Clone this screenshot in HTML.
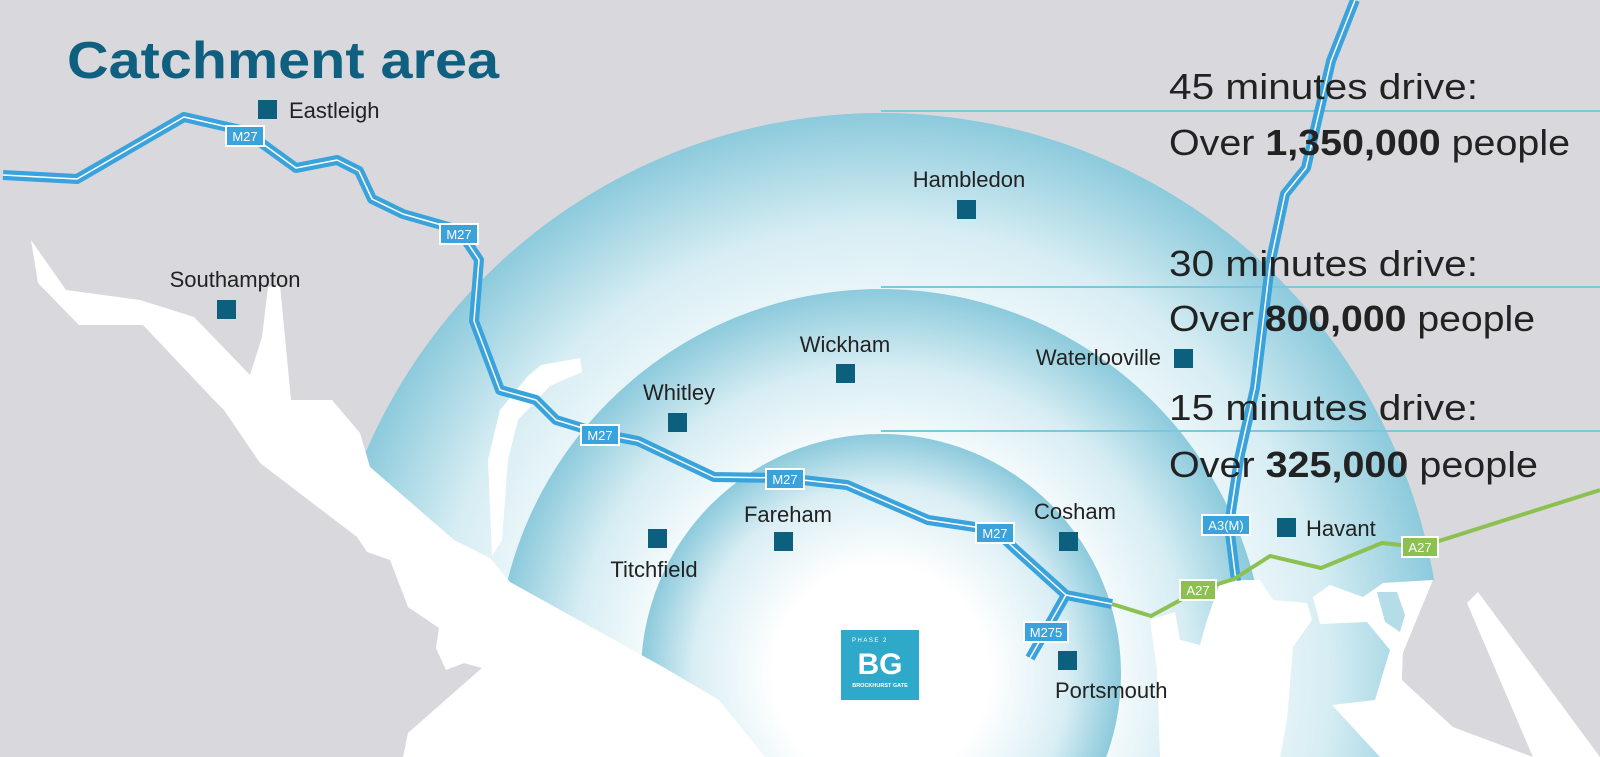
<!DOCTYPE html>
<html><head><meta charset="utf-8"><style>
html,body{margin:0;padding:0;background:#d9d9dd;width:1600px;height:757px;overflow:hidden;}
svg{display:block;}
</style></head><body>
<svg width="1600" height="757" viewBox="0 0 1600 757" xmlns="http://www.w3.org/2000/svg" font-family="Liberation Sans, sans-serif">
<defs>
<radialGradient id="g" cx="0.5" cy="0.5" r="0.5">
<stop offset="0" stop-color="#ffffff"/>
<stop offset="0.55" stop-color="#ffffff"/>
<stop offset="0.8" stop-color="#d6edf3"/>
<stop offset="1" stop-color="#8ccadc"/>
</radialGradient>
<radialGradient id="g2" cx="0.5" cy="0.5" r="0.5">
<stop offset="0" stop-color="#ffffff"/>
<stop offset="0.45" stop-color="#ffffff"/>
<stop offset="0.78" stop-color="#d9eef4"/>
<stop offset="1" stop-color="#8ccadc"/>
</radialGradient>
</defs>
<rect width="1600" height="757" fill="#d9d9dd"/>
<circle cx="881" cy="674" r="561" fill="url(#g)"/>
<circle cx="881" cy="674" r="385" fill="url(#g)"/>
<circle cx="881" cy="674" r="240" fill="url(#g2)"/>
<polygon fill="#d9d9dd" points="0,300 214,400 224,410 260,463 357,537 367,552 390,560 408,607 439,628 436,648 446,670 464,663 482,668 408,733 403,757 0,757"/>
<polygon fill="#fff" points="31,240 66,290 140,300 194,317 250,375 262,337 268,287 280,285 291,400 332,400 360,433 370,467 454,540 490,558 510,582 663,667 719,700 765,757 403,757 408,733 482,668 464,663 446,670 436,648 439,628 408,607 390,560 367,552 357,537 260,463 224,410 214,400 143,325 79,325 38,283"/>
<polygon fill="#fff" points="541,365 580,358 582,372 550,386 518,420 508,460 502,540 492,556 488,460 500,410 528,376"/>
<polygon fill="#fff" points="1150,620 1175,612 1180,640 1200,645 1207,620 1220,583 1240,580 1260,580 1273,600 1307,603 1312,620 1293,647 1287,720 1280,757 1160,757 1157,670"/>
<polygon fill="#fff" points="1313,597 1330,585 1363,597 1383,583 1433,580 1403,653 1402,680 1453,727 1533,757 1380,757 1332,705 1375,700 1390,650 1367,622 1320,624"/>
<polygon fill="#b5dde8" points="1377,592 1397,592 1405,615 1400,632 1385,622"/>
<polygon fill="#d9d9dd" points="1433,580 1600,580 1600,757 1533,757 1453,727 1402,680 1403,653"/>
<polygon fill="#fff" points="1467,603 1478,592 1600,757 1533,757"/>
<g stroke="#7cc6de" stroke-width="2">
<line x1="881" y1="111" x2="1600" y2="111"/>
<line x1="881" y1="287" x2="1600" y2="287"/>
<line x1="881" y1="431" x2="1600" y2="431"/>
</g>
<g fill="none" stroke-linejoin="round">
<polyline stroke="#3aa3dc" stroke-width="10" points="3,175 77,179 184,117 245,131 296,168 337,160 359,171 372,199 403,214 459,230 479,260 474,321 500,390 536,400 556,420 602,434 638,441 714,477 785,478 847,485 928,520 995,530 1015,549 1066,595 1112,604"/>
<polyline stroke="#3aa3dc" stroke-width="10" points="1066,595 1045,632 1030,658"/>
<polyline stroke="#3aa3dc" stroke-width="10" points="1355,0 1331,61 1306,168 1285,194 1270,265 1255,388 1239,459 1229,525 1236,581"/>
<g stroke="#fff" stroke-width="1.5">
<polyline points="3,175 77,179 184,117 245,131 296,168 337,160 359,171 372,199 403,214 459,230 479,260 474,321 500,390 536,400 556,420 602,434 638,441 714,477 785,478 847,485 928,520 995,530 1015,549 1066,595 1112,604"/>
<polyline points="1066,595 1045,632 1030,658"/>
<polyline points="1355,0 1331,61 1306,168 1285,194 1270,265 1255,388 1239,459 1229,525 1236,581"/>
</g>
<polyline stroke="#8cc152" stroke-width="4" points="1112,604 1151,616 1199,590 1234,579 1270,556 1321,568 1382,543 1420,547 1600,490"/>
</g>
<g stroke-width="2" stroke="#fff">
<rect x="226" y="126" width="38" height="20" fill="#3aa3dc"/>
<rect x="440" y="224" width="38" height="20" fill="#3aa3dc"/>
<rect x="581" y="425" width="38" height="20" fill="#3aa3dc"/>
<rect x="766" y="469" width="38" height="20" fill="#3aa3dc"/>
<rect x="976" y="523" width="38" height="20" fill="#3aa3dc"/>
<rect x="1024" y="622" width="44" height="20" fill="#3aa3dc"/>
<rect x="1202" y="515" width="48" height="20" fill="#3aa3dc"/>
<rect x="1180" y="580" width="36" height="20" fill="#8cc152"/>
<rect x="1402" y="537" width="36" height="20" fill="#8cc152"/>
</g>
<g font-size="13" fill="#fff" text-anchor="middle">
<text x="245" y="141">M27</text><text x="459" y="239">M27</text><text x="600" y="440">M27</text>
<text x="785" y="484">M27</text><text x="995" y="538">M27</text><text x="1046" y="637">M275</text>
<text x="1226" y="530">A3(M)</text><text x="1198" y="595">A27</text><text x="1420" y="552">A27</text>
</g>
<rect x="841" y="630" width="78" height="70" fill="#2fa9c9"/>
<text x="852" y="642" font-size="6" fill="#fff" letter-spacing="1.5">PHASE 2</text>
<text x="880" y="674" font-size="30" font-weight="bold" fill="#fff" text-anchor="middle">BG</text>
<text x="880" y="687" font-size="5.5" font-weight="bold" fill="#fff" text-anchor="middle">BROCKHURST GATE</text>
<text x="67" y="78" font-size="52" font-weight="bold" fill="#0e5f80" textLength="432" lengthAdjust="spacingAndGlyphs">Catchment area</text>
<g fill="#0d5f7e">
<rect x="258" y="100" width="19" height="19"/><rect x="217" y="300" width="19" height="19"/>
<rect x="957" y="200" width="19" height="19"/><rect x="836" y="364" width="19" height="19"/>
<rect x="668" y="413" width="19" height="19"/><rect x="1174" y="349" width="19" height="19"/>
<rect x="648" y="529" width="19" height="19"/><rect x="774" y="532" width="19" height="19"/>
<rect x="1059" y="532" width="19" height="19"/><rect x="1277" y="518" width="19" height="19"/>
<rect x="1058" y="651" width="19" height="19"/>
</g>
<g font-size="22" fill="#222">
<text x="289" y="118">Eastleigh</text>
<text x="235" y="287" text-anchor="middle">Southampton</text>
<text x="969" y="187" text-anchor="middle">Hambledon</text>
<text x="845" y="352" text-anchor="middle">Wickham</text>
<text x="679" y="400" text-anchor="middle">Whitley</text>
<text x="1161" y="365" text-anchor="end">Waterlooville</text>
<text x="654" y="577" text-anchor="middle">Titchfield</text>
<text x="788" y="522" text-anchor="middle">Fareham</text>
<text x="1075" y="519" text-anchor="middle">Cosham</text>
<text x="1306" y="536">Havant</text>
<text x="1055" y="698">Portsmouth</text>
</g>
<g font-size="36" fill="#222">
<text x="1169" y="99" textLength="309" lengthAdjust="spacingAndGlyphs">45 minutes drive:</text>
<text x="1169" y="155" textLength="401" lengthAdjust="spacingAndGlyphs">Over <tspan font-weight="bold">1,350,000</tspan> people</text>
<text x="1169" y="276" textLength="309" lengthAdjust="spacingAndGlyphs">30 minutes drive:</text>
<text x="1169" y="331" textLength="366" lengthAdjust="spacingAndGlyphs">Over <tspan font-weight="bold">800,000</tspan> people</text>
<text x="1169" y="420" textLength="309" lengthAdjust="spacingAndGlyphs">15 minutes drive:</text>
<text x="1169" y="477" textLength="369" lengthAdjust="spacingAndGlyphs">Over <tspan font-weight="bold">325,000</tspan> people</text>
</g>
</svg>
</body></html>
